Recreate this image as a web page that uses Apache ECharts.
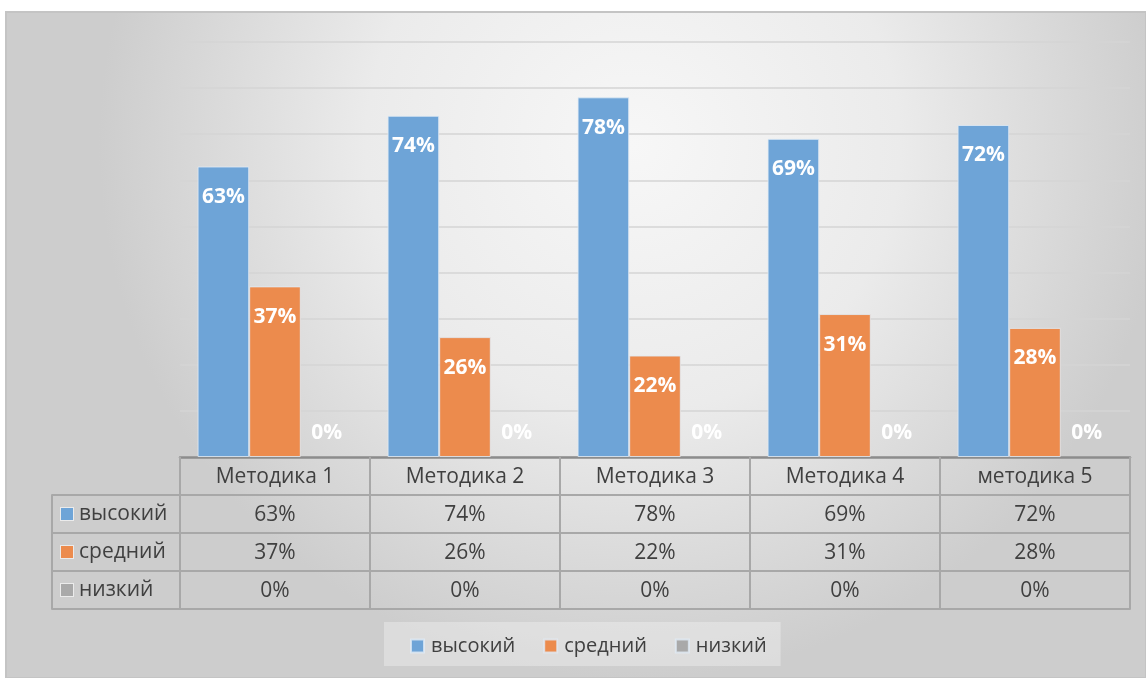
<!DOCTYPE html>
<html><head><meta charset="utf-8">
<script src="https://cdn.jsdelivr.net/npm/echarts@6/dist/echarts.min.js"></script>
<style>html,body{margin:0;padding:0;background:#fff}#c{width:1146px;height:678px}</style>
</head><body><div id="c"></div>
<script>
const categories = ['Методика 1', 'Методика 2', 'Методика 3', 'Методика 4', 'методика 5'];
const seriesNames = ['высокий', 'средний', 'низкий'];
const high = [63, 74, 78, 69, 72];
const mid = [37, 26, 22, 31, 28];
const low = [0, 0, 0, 0, 0];
const colors = ['#6ea4d7', '#ec8b4d', '#a9a9a9'];

const rows = [high, mid, low];
const FONT = '"Open Sans", "Noto Sans", sans-serif';
const lineCol = '#a8a8a8';

const chart = echarts.init(document.getElementById('c'));

function rowAxis(k, offset) {
  return {
    type: 'category', gridIndex: 0, position: 'bottom', offset: offset,
    data: categories,
    axisLine: { show: true, lineStyle: { color: lineCol, width: 2 } },
    axisTick: { show: false },
    axisLabel: {
      show: k >= 0, interval: 0, margin: 10, color: '#404040', fontSize: 21, fontFamily: FONT,
      formatter: (v, i) => k >= 0 ? rows[k][i] + '%' : ''
    },
    splitLine: { show: false }
  };
}

function makeSeries(idx, data) {
  return {
    name: seriesNames[idx], type: 'bar', xAxisIndex: 0, yAxisIndex: 0,
    barGap: '0%', barCategoryGap: '18.5%',
    itemStyle: { color: colors[idx], borderColor: 'rgba(225,235,245,0.8)', borderWidth: 1 },
    data: data.map(v => v === 0
      ? { value: v, itemStyle: { borderWidth: 0 }, label: { position: 'top', distance: 13 } }
      : { value: v }),
    label: {
      show: true, position: 'insideTop', distance: 20, color: '#ffffff',
      fontSize: 21, fontWeight: 'bold', fontFamily: FONT,
      formatter: p => p.value + '%'
    }
  };
}

chart.setOption({
  animation: false,
  textStyle: { fontFamily: FONT },
  graphic: [{
    type: 'rect', z: -100, silent: true,
    shape: { x: 6, y: 12, width: 1140, height: 666 },
    style: {
      fill: new echarts.graphic.RadialGradient(0.55, 0.2, 0.8, [
        { offset: 0, color: '#f7f7f7' },
        { offset: 0.5, color: '#ebebeb' },
        { offset: 1, color: '#cdcdcd' }
      ]),
      stroke: '#c4c4c4', lineWidth: 2
    }
  }],
  legend: {
    data: seriesNames, left: 384, top: 622, padding: [14, 14, 10, 26],
    backgroundColor: 'rgba(255,255,255,0.3)',
    icon: 'rect', itemWidth: 13, itemHeight: 13, itemGap: 28,
    textStyle: { color: '#404040', fontSize: 20, fontFamily: FONT, padding: [0, 0, 0, 2] }
  },
  grid: [
    { left: 180, right: 16, top: 42, bottom: 221 },
    { left: 52, width: 128, top: 495, height: 114 }
  ],
  xAxis: [
    {
      type: 'category', gridIndex: 0, position: 'bottom', data: categories,
      axisLine: { show: true, lineStyle: { color: '#8c8c8c', width: 2.5 } },
      axisTick: { show: true, interval: 0, length: 152, lineStyle: { color: lineCol, width: 2 } },
      axisLabel: { interval: 0, margin: 10, color: '#404040', fontSize: 21, fontFamily: FONT }
    },
    rowAxis(0, 38),
    rowAxis(1, 76),
    rowAxis(2, 114),
    rowAxis(-1, 152),
    { type: 'value', gridIndex: 1, show: false, min: 0, max: 1 }
  ],
  yAxis: [
    {
      type: 'value', gridIndex: 0, min: 0, max: 90, interval: 10,
      axisLine: { show: false }, axisTick: { show: false }, axisLabel: { show: false },
      splitLine: { lineStyle: { color: '#d4d4d4', width: 1.5 } }
    },
    {
      type: 'category', gridIndex: 1, inverse: true, data: seriesNames,
      axisLine: { show: true, lineStyle: { color: lineCol, width: 2 } },
      axisTick: { show: false },
      splitLine: { show: true, interval: 0, lineStyle: { color: lineCol, width: 2 } },
      axisLabel: {
        inside: true, margin: 9, fontFamily: FONT,
        formatter: (v, i) => '{m' + i + '|}{t|' + v + '}',
        rich: {
          m0: { backgroundColor: colors[0], borderColor: 'rgba(255,255,255,0.6)', borderWidth: 1, width: 12, height: 12 },
          m1: { backgroundColor: colors[1], borderColor: 'rgba(255,255,255,0.6)', borderWidth: 1, width: 12, height: 12 },
          m2: { backgroundColor: colors[2], borderColor: 'rgba(255,255,255,0.6)', borderWidth: 1, width: 12, height: 12 },
          t: { color: '#404040', fontSize: 21, fontFamily: FONT, padding: [0, 0, 0, 6] }
        }
      }
    }
  ],
  series: [makeSeries(0, high), makeSeries(1, mid), makeSeries(2, low)]
});
</script>
</body></html>
